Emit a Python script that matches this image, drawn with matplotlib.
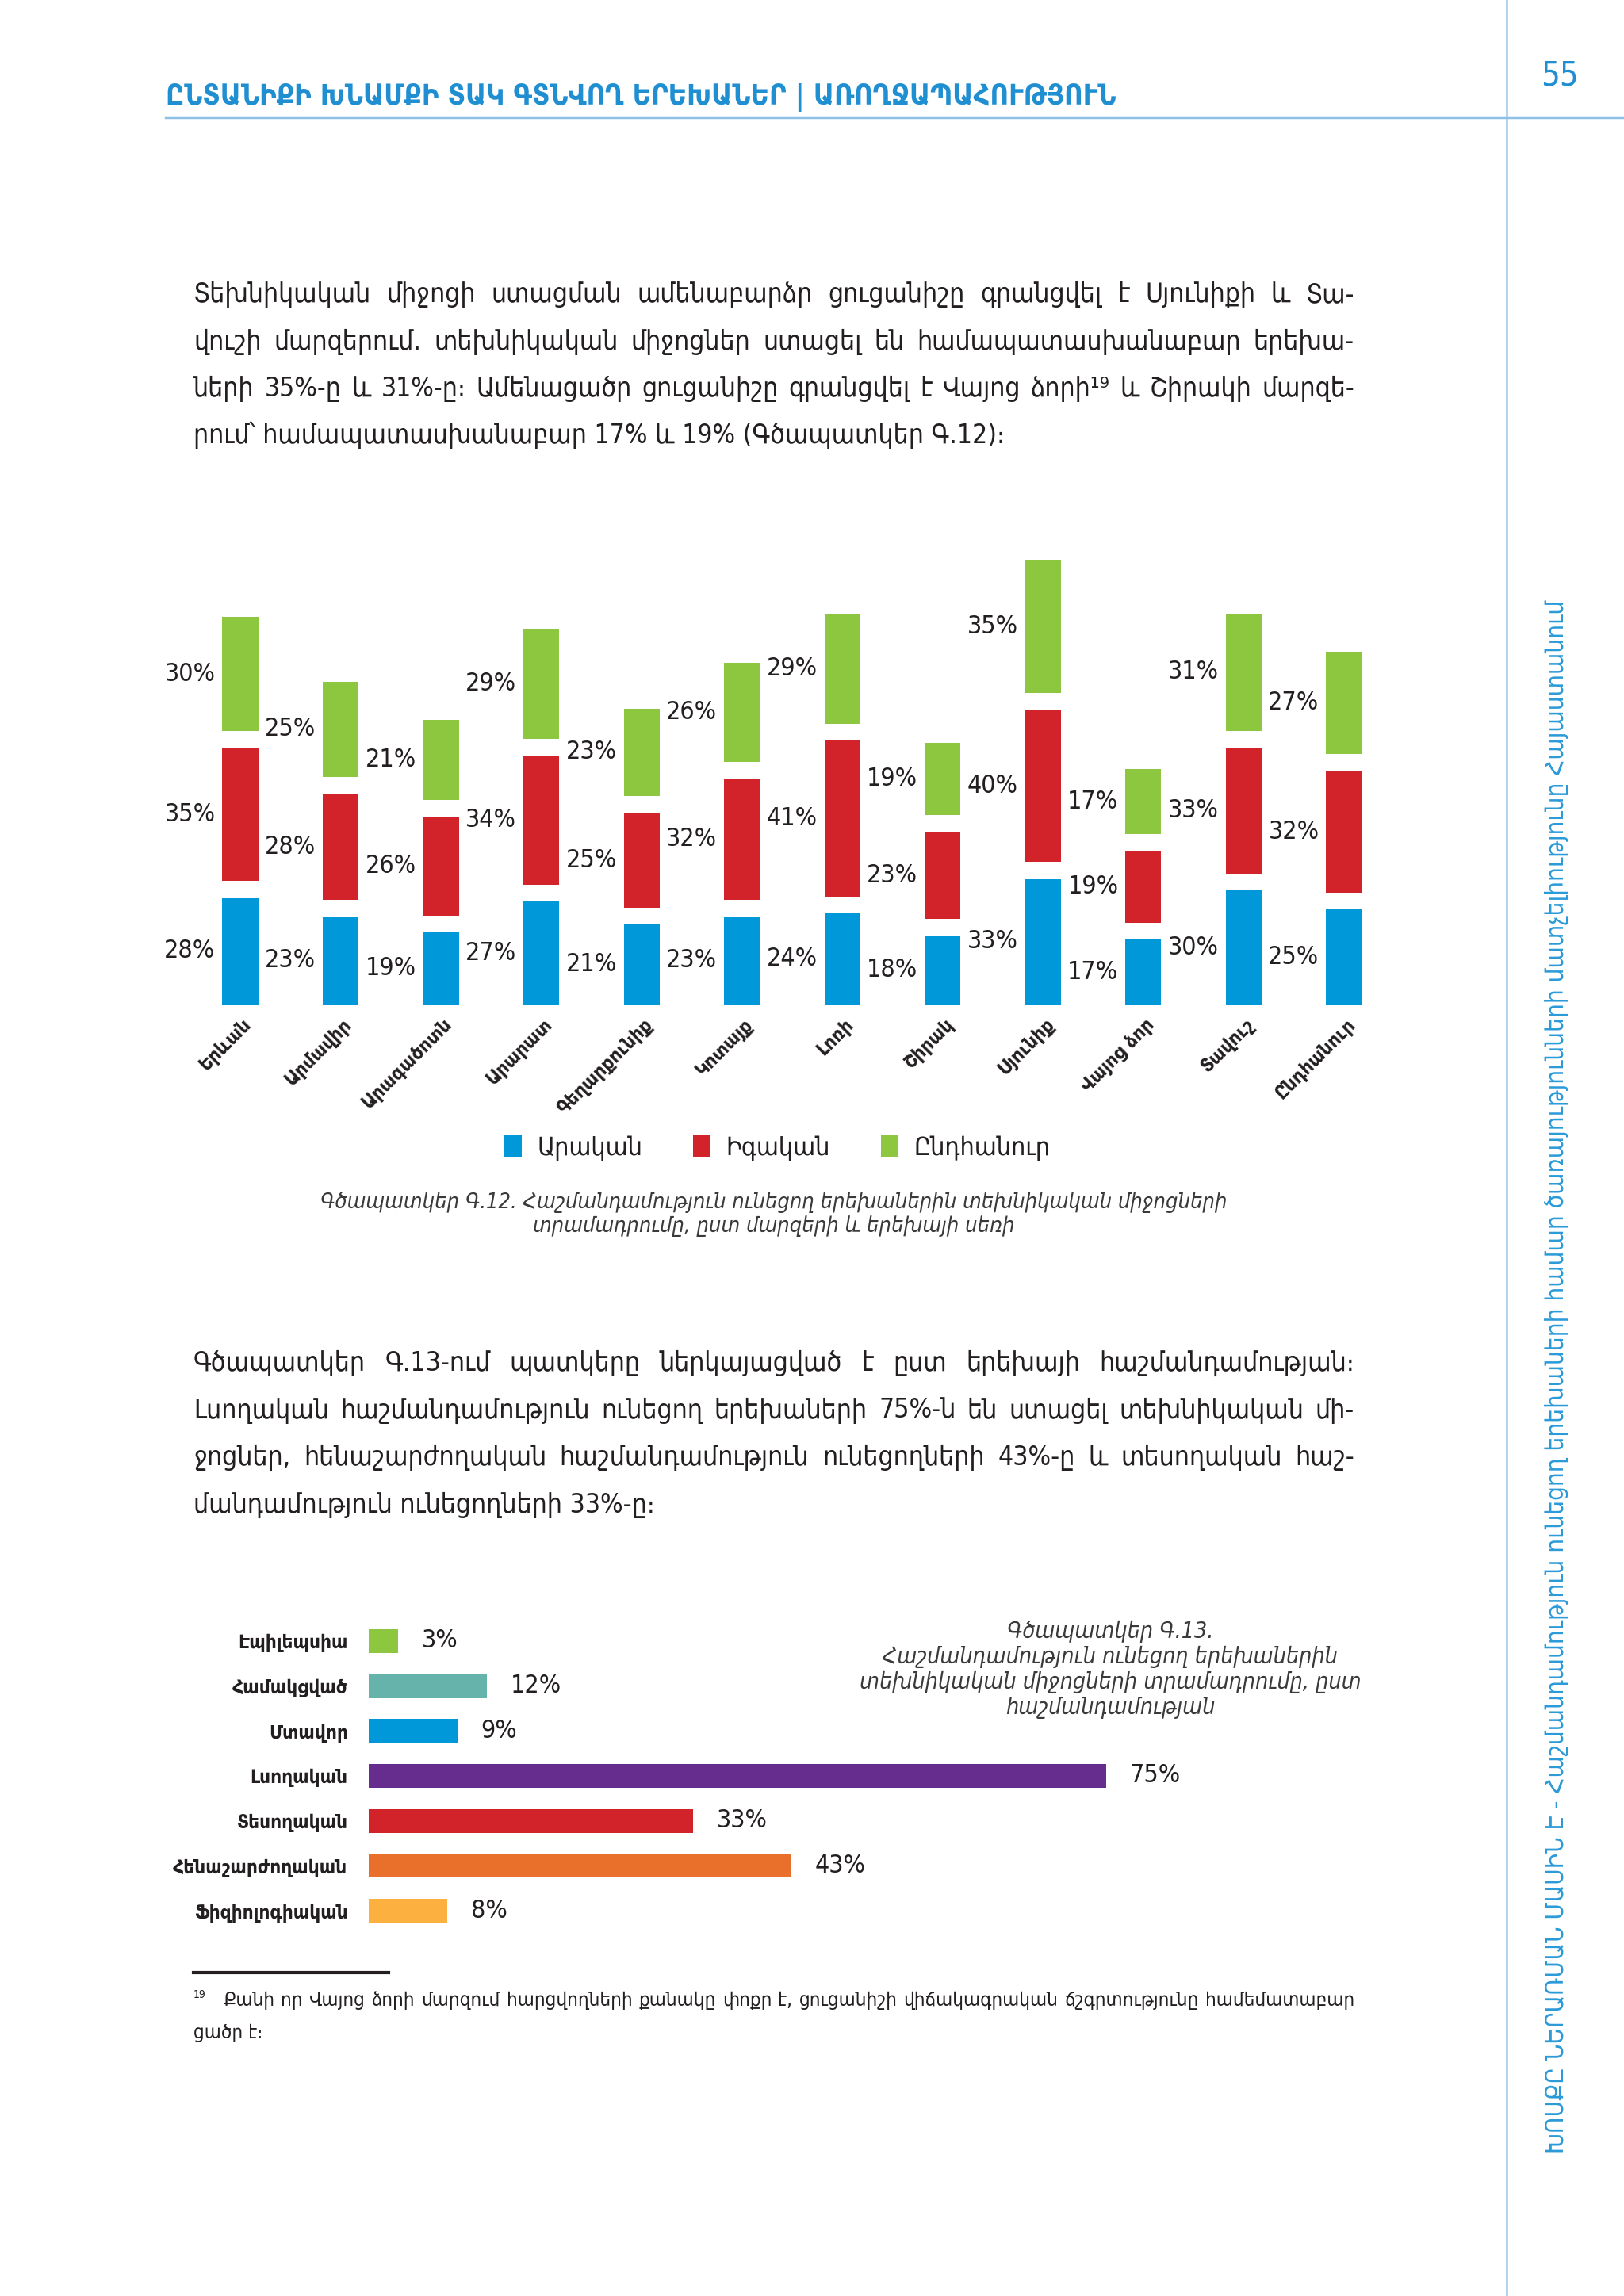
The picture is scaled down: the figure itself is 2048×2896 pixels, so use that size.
import matplotlib
matplotlib.use('agg')
import matplotlib.pyplot as plt
from matplotlib.lines import Line2D
import numpy as np

plt.rcParams['font.family'] = ['DejaVu Sans']
plt.rcParams['font.stretch'] = 'condensed'

# ---- data ----
regions = ['Երևան', 'Արմավիր', 'Արագածոտն', 'Արարատ', 'Գեղարքունիք', 'Կոտայք',
           'Լոռի', 'Շիրակ', 'Սյունիք', 'Վայոց ձոր', 'Տավուշ', 'Ընդհանուր']
male = [28, 23, 19, 27, 21, 23, 24, 18, 33, 17, 30, 25]
female = [35, 28, 26, 34, 25, 32, 41, 23, 40, 19, 33, 32]
total = [30, 25, 21, 29, 23, 26, 29, 19, 35, 17, 31, 27]
series_names = ['Արական', 'Իգական', 'Ընդհանուր']

disab = ['Էպիլեպսիա', 'Համակցված', 'Մտավոր', 'Լսողական', 'Տեսողական',
         'Հենաշարժողական', 'Ֆիզիոլոգիական']
disab_vals = [3, 12, 9, 75, 33, 43, 8]

header = 'ԸՆՏԱՆԻՔԻ ԽՆԱՄՔԻ ՏԱԿ ԳՏՆՎՈՂ ԵՐԵԽԱՆԵՐ | ԱՌՈՂՋԱՊԱՀՈՒԹՅՈՒՆ'
side = ('ԽՈՍՔԸ ՆԵՐԱՌՄԱՆ ՄԱՍԻՆ Է - Հաշմանդամություն ունեցող երեխաների համար '
        'ծառայությունների մատչելիությունը Հայաստանում')
para1 = ['Տեխնիկական միջոցի ստացման ամենաբարձր ցուցանիշը գրանցվել է Սյունիքի և Տա-',
         'վուշի մարզերում. տեխնիկական միջոցներ ստացել են համապատասխանաբար երեխա-',
         'ների 35%-ը և 31%-ը։ Ամենացածր ցուցանիշը գրանցվել է Վայոց ձորի¹⁹ և Շիրակի մարզե-',
         'րում՝ համապատասխանաբար 17% և 19% (Գծապատկեր Գ.12)։']
para2 = ['Գծապատկեր Գ.13-ում պատկերը ներկայացված է ըստ երեխայի հաշմանդամության։',
         'Լսողական հաշմանդամություն ունեցող երեխաների 75%-ն են ստացել տեխնիկական մի-',
         'ջոցներ, հենաշարժողական հաշմանդամություն ունեցողների 43%-ը և տեսողական հաշ-',
         'մանդամություն ունեցողների 33%-ը։']
cap12 = ['Գծապատկեր Գ.12. Հաշմանդամություն ունեցող երեխաներին տեխնիկական միջոցների',
         'տրամադրումը, ըստ մարզերի և երեխայի սեռի']
cap13 = ['Գծապատկեր Գ.13.', 'Հաշմանդամություն ունեցող երեխաներին',
         'տեխնիկական միջոցների տրամադրումը, ըստ', 'հաշմանդամության']
foot = ['Քանի որ Վայոց ձորի մարզում հարցվողների քանակը փոքր է, ցուցանիշի վիճակագրական ճշգրտությունը համեմատաբար',
        'ցածր է։']

W, H = 2048, 2896
fig = plt.figure(figsize=(W / 100, H / 100), dpi=100)
r = fig.canvas.get_renderer()
ink = '#231f20'
blue_t = '#1f8fd2'


def fx(x):
    return x / W


def fy(y):
    return 1 - y / H


def fit(x, y, s, width, size0=20, rot=0, **kw):
    t = fig.text(fx(x), fy(y), s, size=size0, **kw)
    w = t.get_window_extent(r).width
    t.set_fontsize(size0 * width / w)
    t.set_rotation(rot)
    return t


def para(lines, x0, x1, y0, dy, fill=0.975, last=None, **kw):
    # pick a size so the widest justified line nearly fills the column
    widest = 0
    for line in lines[:-1]:
        t = fig.text(0, 0, line, size=20, **kw)
        widest = max(widest, t.get_window_extent(r).width)
        t.remove()
    size = 20 * (x1 - x0) * fill / widest
    for k, line in enumerate(lines):
        y = fy(y0 + k * dy)
        words = line.split(' ')
        if k == len(lines) - 1:
            fig.text(fx(x0 if last is None else last), y, line, size=size, va='baseline', **kw)
            continue
        ts = [fig.text(0, y, w, size=size, va='baseline', **kw) for w in words]
        ws = [t.get_window_extent(r).width for t in ts]
        gap = (x1 - x0 - sum(ws)) / (len(words) - 1)
        x = x0
        for t, w in zip(ts, ws):
            t.set_x(fx(x))
            x += w + gap
    return size


# page frame
fig.add_artist(Line2D([fx(1900), fx(1900)], [0, 1], color='#a9d0ee', lw=2))
fig.add_artist(Line2D([fx(209), 1], [fy(148), fy(148)], color='#8fc0e6', lw=2.5))
fit(209, 132, header, 1195, color=blue_t, fontweight='bold', va='baseline')
fig.text(fx(1967), fy(96), '55', size=30, color=blue_t, ha='center', va='center')
fit(1963, 1736, side, 1958, rot=90, color='#2a9ad8', ha='center', va='center')

# paragraphs
para(para1, 244, 1708, 381, 59.5, color=ink)
para(para2, 244, 1708, 1729, 59.5, color=ink)

# ---- chart G.12 ----
c_blue, c_red, c_green = '#0098d8', '#d2232b', '#8dc63f'
gap = 4.4
wbar = 0.356
ax1 = fig.add_axes([fx(200), fy(1267), 1600 / W, 600 / H])
x = np.arange(len(regions))
m = np.array(male)
f = np.array(female)
t = np.array(total)
b1 = ax1.bar(x, m, wbar, color=c_blue)
b2 = ax1.bar(x, f, wbar, bottom=m + gap, color=c_red)
b3 = ax1.bar(x, t, wbar, bottom=m + f + 2 * gap, color=c_green)
for vals, bots in [(m, 0 * m), (f, m + gap), (t, m + f + 2 * gap)]:
    for i in range(len(x)):
        ax1.text(x[i] - wbar / 2 - 0.07, bots[i] + vals[i] / 2, f'{vals[i]}%',
                 ha='right', va='center', size=23, color=ink)
for i, name in enumerate(regions):
    ax1.text(x[i] + 0.08, -4.5, name, rotation=45, rotation_mode='anchor',
             ha='right', va='center', size=17.5, fontweight='bold', color=ink)
ax1.set_xlim(-0.814, 11.83)
ax1.set_ylim(0, 125)
ax1.axis('off')

fig.legend([b1, b2, b3], series_names, loc='center', bbox_to_anchor=(fx(980), fy(1448)),
           ncol=3, frameon=False, fontsize=23, handlelength=0.7, handleheight=0.9,
           handletextpad=0.6, columnspacing=2.0, labelcolor=ink)

t0 = fit(976, 1524, cap12[0], 1144, color='#3a3a3a', style='italic', ha='center', va='baseline')
fig.text(fx(976), fy(1554), cap12[1], size=t0.get_fontsize(), color='#3a3a3a',
         style='italic', ha='center', va='baseline')

# ---- chart G.13 ----
dcols = ['#8dc63f', '#66b3ab', '#0098d8', '#662d8f', '#d2232b', '#e8702a', '#fbb040']
ax2 = fig.add_axes([fx(465), fy(2438.4), 1240 / W, 396.9 / H])
y = np.arange(len(disab))
ax2.barh(y, disab_vals, 0.53, color=dcols)
for i, v in enumerate(disab_vals):
    ax2.text(v + 2.4, y[i], f'{v}%', va='center', ha='left', size=23, color=ink)
ax2.set_xlim(0, 100)
ax2.set_ylim(6.5, -0.5)
ax2.set_yticks(y)
ax2.set_yticklabels(disab, fontweight='bold', size=17.5, color=ink)
ax2.tick_params(axis='y', length=0, pad=19)
ax2.set_xticks([])
for s in ax2.spines.values():
    s.set_visible(False)

t1 = fit(1400, 2130, cap13[2], 634, color='#3a3a3a', style='italic', ha='center', va='baseline')
for k, ln in enumerate(cap13):
    if k == 2:
        continue
    fig.text(fx(1400), fy(2066 + k * 32), ln, size=t1.get_fontsize(), color='#3a3a3a',
             style='italic', ha='center', va='baseline')

# footnote
fig.add_artist(Line2D([fx(244), fx(490)], [fy(2488), fy(2488)], color=ink, lw=3))
fig.text(fx(244), fy(2520), '19', size=10, color=ink, va='baseline')
para(foot, 281, 1708, 2530, 41, fill=0.99, last=244, color=ink)

fig.savefig('out.png', dpi=100, facecolor='white')
